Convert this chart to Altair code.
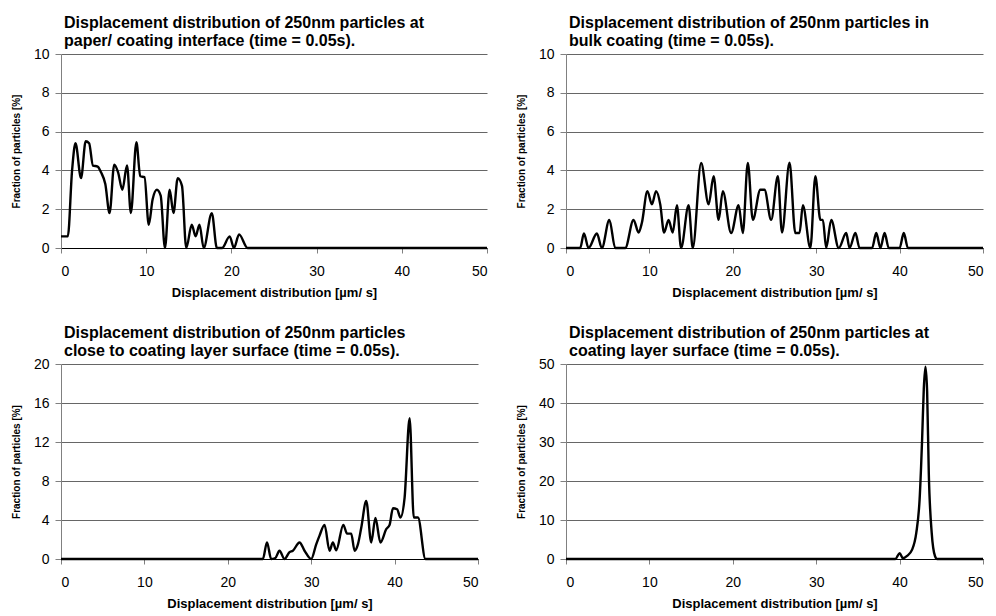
import altair as alt
import pandas as pd

# ---------------- data ----------------
X_TITLE = "Displacement distribution [µm/ s]"
Y_TITLE = "Fraction of particles [%]"

titles = [
    ["Displacement distribution of 250nm particles at", "paper/ coating interface (time = 0.05s)."],
    ["Displacement distribution of 250nm particles in", "bulk coating (time = 0.05s)."],
    ["Displacement distribution of 250nm particles", "close to coating layer surface (time = 0.05s)."],
    ["Displacement distribution of 250nm particles at", "coating layer surface (time = 0.05s)."],
]

x_ticks = [0, 10, 20, 30, 40, 50]
y_ticks_1 = [0, 2, 4, 6, 8, 10]
y_ticks_2 = [0, 2, 4, 6, 8, 10]
y_ticks_3 = [0, 4, 8, 12, 16, 20]
y_ticks_4 = [0, 10, 20, 30, 40, 50]

p1_x = [0, 0.8, 1.3, 1.7, 2.35, 2.9, 3.3, 3.75, 4.3, 4.7, 5.2, 5.7, 6.25, 6.7, 7.2, 7.75,
        8.2, 8.85, 9.3, 9.8, 10.3, 10.75, 11.25, 11.7, 12.2, 12.75, 13.2, 13.7, 14.2, 14.7,
        15.35, 15.8, 16.25, 16.75, 17.7, 18.3, 18.9, 19.8, 20.3, 20.9, 21.9, 50]
p1_y = [0.6, 0.6, 4.0, 5.4, 3.6, 5.5, 5.4, 4.25, 4.2, 3.9, 3.3, 1.8, 4.3, 3.9, 3.0, 4.25,
        1.8, 5.45, 3.7, 3.65, 1.2, 2.5, 3.0, 2.7, 0.0, 3.0, 1.8, 3.6, 3.2, 0.0,
        1.2, 0.6, 1.2, 0.0, 1.8, 0.0, 0.0, 0.6, 0.0, 0.7, 0.0, 0.0]

p2_x = [0, 1.7, 2.15, 2.7, 3.7, 4.3, 5.2, 5.9, 7.1, 8.1, 8.7, 9.1, 9.76, 10.3, 10.8, 11.3,
        11.76, 12.3, 12.8, 13.3, 13.8, 14.7, 15.2, 16.2, 17.1, 17.7, 18.3, 18.8, 19.8, 20.7,
        21.2, 21.8, 22.4, 23.3, 23.8, 24.6, 25.4, 25.9, 26.8, 27.5, 28.0, 28.4, 29.3, 29.9,
        30.5, 30.8, 31.2, 31.8, 32.7, 33.6, 34.0, 34.7, 35.2, 36.7, 37.2, 37.7, 38.2, 38.7,
        40.0, 40.5, 41.0, 50]
p2_y = [0, 0, 0.75, 0, 0.75, 0, 1.45, 0, 0, 1.45, 0.8, 1.3, 2.93, 2.25, 2.93, 2.25,
        0.8, 1.45, 0.8, 2.2, 0, 2.2, 0, 4.38, 2.25, 3.7, 1.45, 2.93, 0.77, 2.2,
        0.77, 4.38, 1.45, 3.0, 3.0, 1.45, 3.7, 0.8, 4.4, 0.77, 0.77, 2.2, 0, 3.7,
        1.45, 1.45, 0, 1.45, 0, 0.77, 0, 0.77, 0, 0, 0.77, 0, 0.77, 0,
        0, 0.77, 0, 0]

p3_x = [0, 24.2, 24.7, 25.2, 25.7, 26.2, 26.8, 27.4, 27.8, 28.6, 29.2, 30.0, 30.6, 31.0,
        31.6, 32.2, 32.6, 33.0, 33.85, 34.3, 34.8, 35.2, 35.6, 36.0, 36.6, 37.2, 37.7, 38.3,
        39.0, 39.4, 39.8, 40.3, 40.7, 41.2, 41.8, 42.3, 42.8, 43.7, 50]
p3_y = [0, 0, 1.7, 0, 0.1, 0.85, 0, 0.7, 0.85, 1.7, 0.85, 0, 1.5, 2.4,
        3.5, 0.85, 1.7, 0.9, 3.5, 2.6, 2.6, 0.85, 1.5, 3.2, 5.95, 1.7, 4.2, 1.7,
        3.06, 3.5, 5.2, 5.1, 4.25, 6.3, 14.45, 4.25, 4.25, 0, 0]

p4_x = [0, 39.5, 40.0, 40.4, 40.9, 41.5, 42.0, 42.4, 42.7, 42.9, 43.1, 43.3, 43.5, 43.85,
        44.25, 44.5, 50]
p4_y = [0, 0, 1.5, 0.2, 0.8, 2.4, 6.7, 15.3, 30.7, 43.6, 49.3, 43.0, 22.0, 6.7,
        0.7, 0, 0]

FONT = "Liberation Sans"


def panel(xs, ys, title, ymax, yticks, width, height):
    df = pd.DataFrame({"x": xs, "y": ys})
    return (
        alt.Chart(df, title=alt.TitleParams(title, anchor="start", frame="group"))
        .mark_line(color="black", strokeWidth=2.4, interpolate="monotone")
        .encode(
            x=alt.X("x:Q", scale=alt.Scale(domain=[0, 50], nice=False),
                    axis=alt.Axis(values=x_ticks, title=X_TITLE)),
            y=alt.Y("y:Q", scale=alt.Scale(domain=[0, ymax], nice=False),
                    axis=alt.Axis(values=yticks, title=Y_TITLE)),
        )
        .properties(width=width, height=height)
    )


c1 = panel(p1_x, p1_y, titles[0], 10, y_ticks_1, 426, 194)
c2 = panel(p2_x, p2_y, titles[1], 10, y_ticks_2, 417, 194)
c3 = panel(p3_x, p3_y, titles[2], 20, y_ticks_3, 417, 195)
c4 = panel(p4_x, p4_y, titles[3], 50, y_ticks_4, 417, 195)

chart = (
    alt.concat(c1, c2, c3, c4, columns=2, spacing={"row": 116, "column": 79}, bounds="flush")
    .properties(padding={"left": 11, "top": 15, "right": 0, "bottom": 0}, background="white")
    .configure_view(stroke=None)
    .configure_axis(
        labelFont=FONT, labelFontSize=14, labelColor="black",
        titleFont=FONT, titleColor="black", titleFontWeight="bold",
        domainColor="#808080", tickColor="#808080",
    )
    .configure_axisX(tickSize=5, labelPadding=11.5, titleFontSize=13, titlePadding=8,
                     grid=False, domainColor="black")
    .configure_axisY(tickSize=6, labelPadding=6, titleFontSize=10, titlePadding=12,
                     grid=True, gridColor="#666666", gridWidth=1)
    .configure_title(font=FONT, fontSize=16, fontWeight="bold", color="black",
                     lineHeight=18, offset=-2, dx=3)
)

chart.save("out.html", embed_options={"renderer": "svg", "actions": False})
